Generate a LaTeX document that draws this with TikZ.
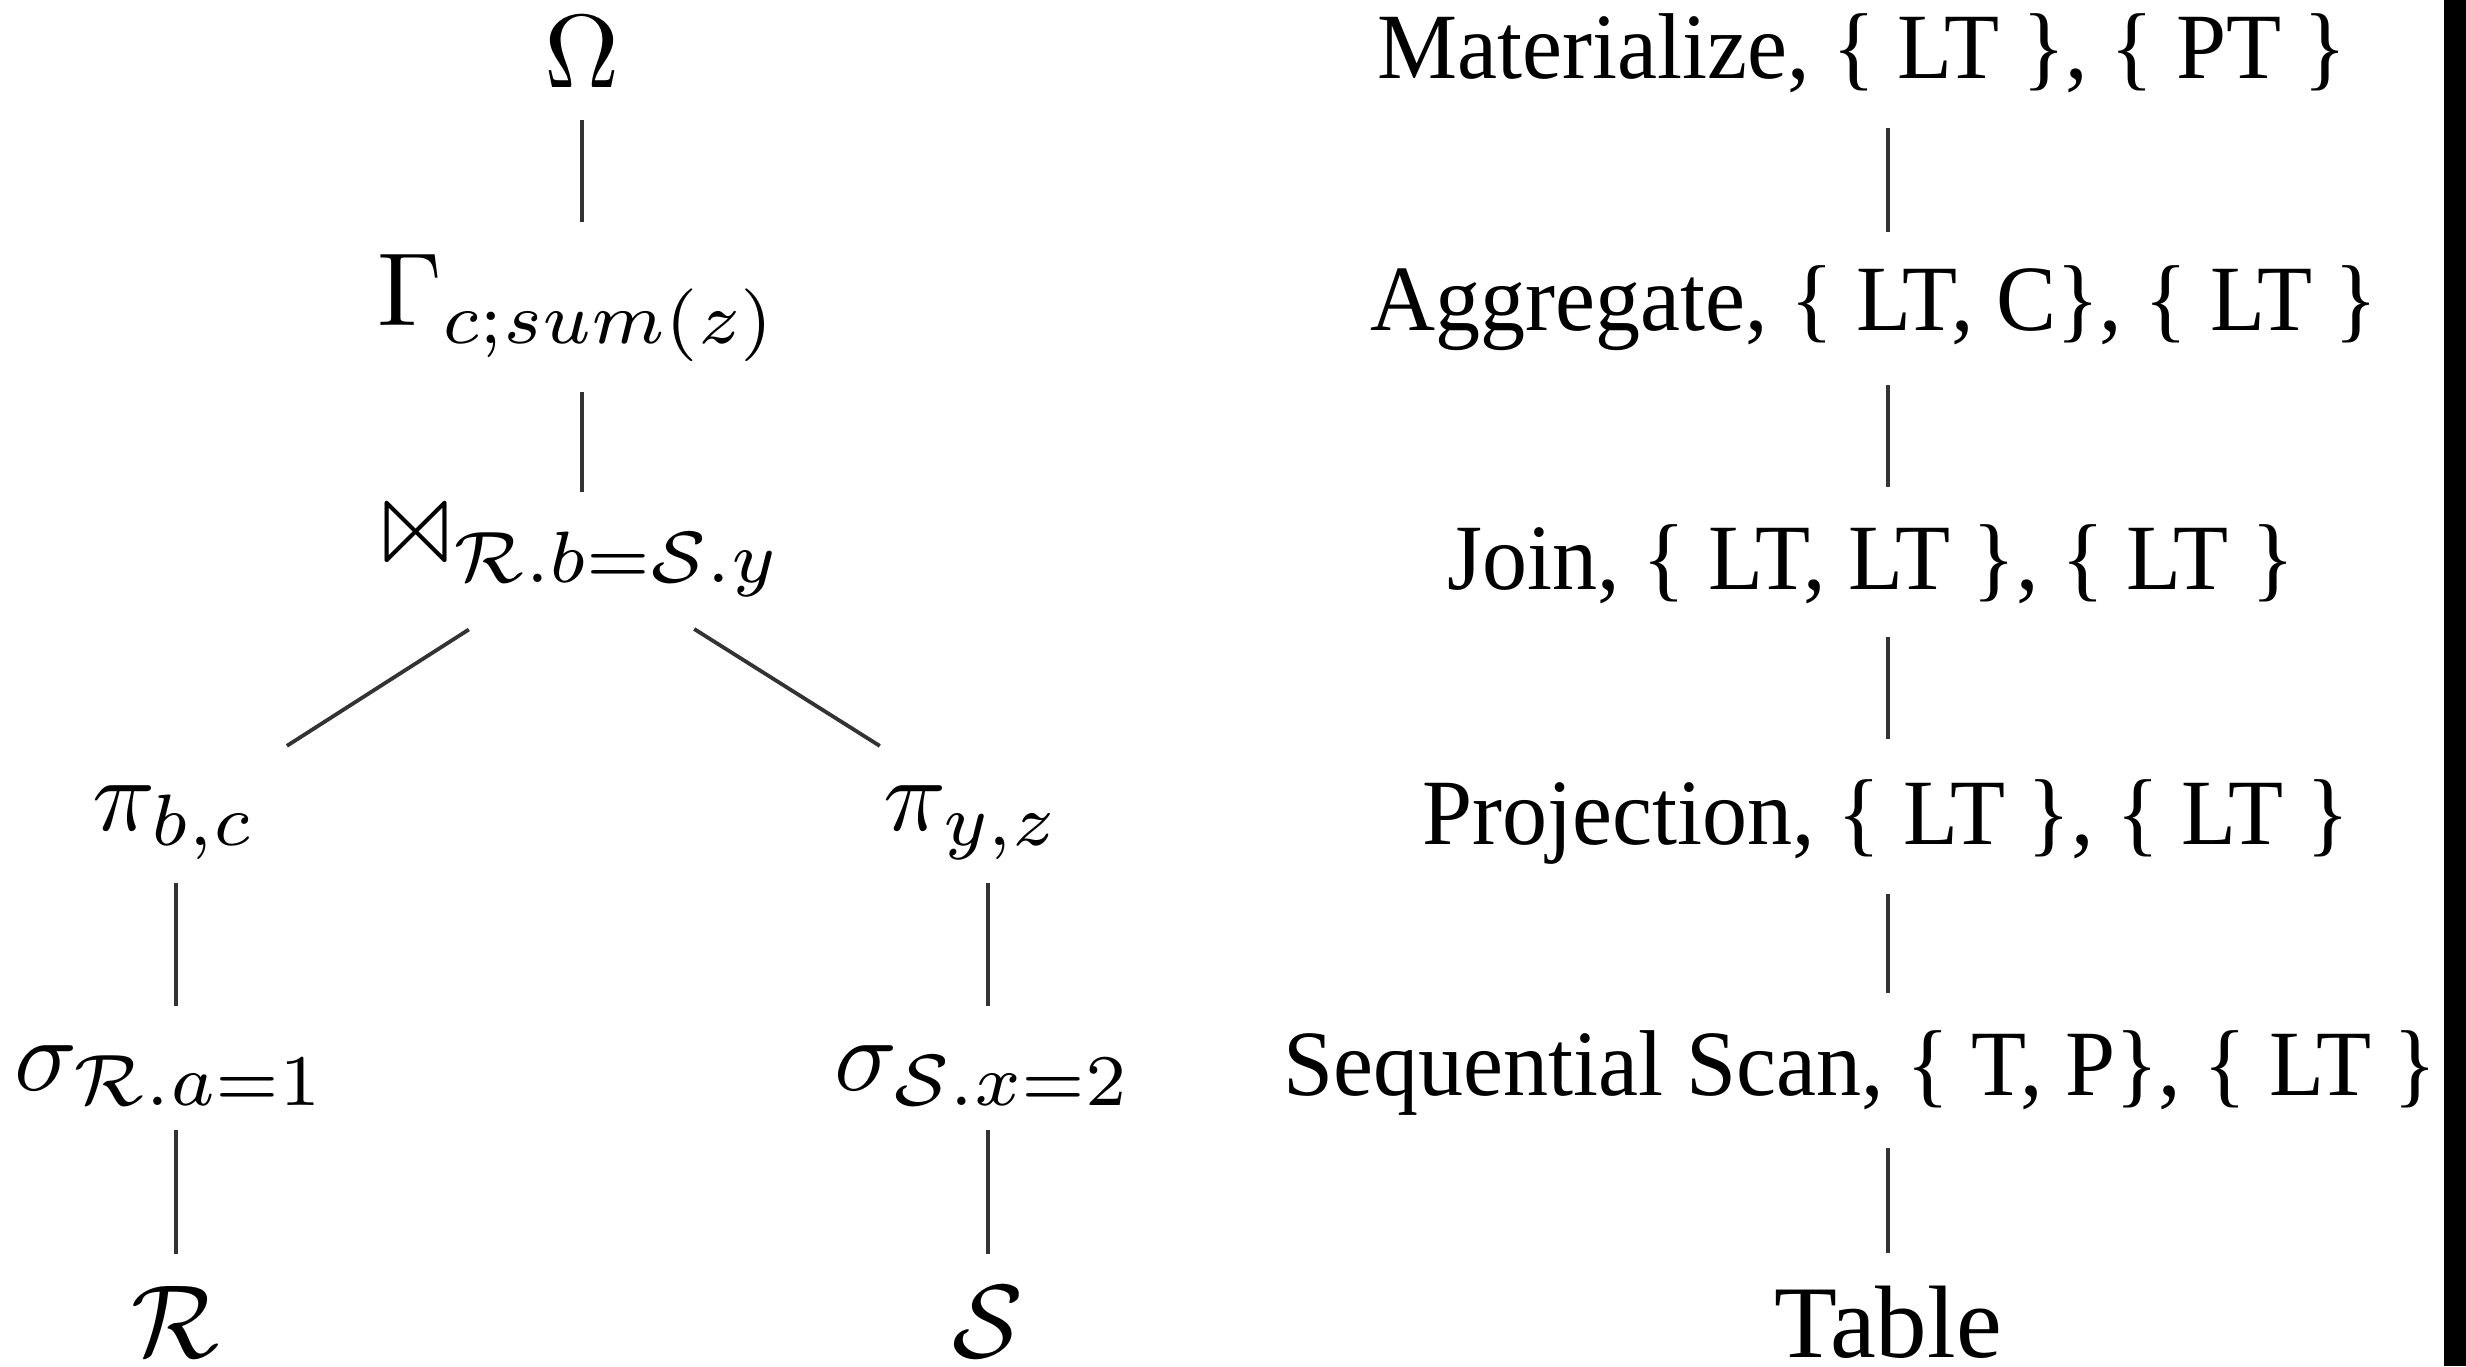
\documentclass[tikz,border=0pt]{standalone}
\usepackage{fix-cm}
\usepackage[no-math]{fontspec}
\usepackage{latexsym}
\newfontfamily\timesf[FakeStretch=0.963]{Liberation Serif}
\newfontfamily\timesplain{Liberation Serif}
\begin{document}
\begin{tikzpicture}[x=0.1pt,y=-0.1pt,
  mnode/.style={inner sep=0pt,outer sep=0pt,anchor=base,font=\fontsize{10.4pt}{12pt}\selectfont},
  tnode/.style={inner sep=0pt,outer sep=0pt,anchor=base,font=\timesf\fontsize{9.35pt}{11pt}\selectfont},
  tbig/.style={inner sep=0pt,outer sep=0pt,anchor=base,font=\timesplain\fontsize{10.3pt}{12pt}\selectfont},
  conn/.style={draw=black!80,line width=0.38pt}]
\useasboundingbox (0,0) rectangle (2466,1366);
\fill[black] (2444,0) rectangle (2466,1366);
% left tree
\node[mnode] (omega) at (582,87) {$\Omega$};
\node[mnode] (gamma) at (578,325) {$\Gamma_{c;sum(z)}$};
\node[mnode] (join) at (580,567) {$\Join_{\mathcal{R}.b=\mathcal{S}.y}$};
\node[mnode] (pil) at (174,830) {$\pi_{b,c}$};
\node[mnode] (sigl) at (170,1090) {$\sigma_{\mathcal{R}.a=1}$};
\node[mnode] (rel) at (176,1357) {$\mathcal{R}$};
\node[mnode] (pir) at (972,830) {$\pi_{y,z}$};
\node[mnode] (sigr) at (983,1090) {$\sigma_{\mathcal{S}.x=2}$};
\node[mnode] (relS) at (988,1357) {$\mathcal{S}$};
\draw[conn,shorten <=3.3pt,shorten >=10.3pt] (omega.base) -- (gamma.base -| omega.base);
\draw[conn,shorten <=6.7pt,shorten >=7.5pt] (gamma.base -| omega.base) -- (join.base -| omega.base);
\draw[conn,shorten <=13.2pt,shorten >=13.4pt] ([yshift=0.86pt]join.base) -- ([yshift=1.2pt]pil.base);
\draw[conn,shorten <=13.5pt,shorten >=10.9pt] ([yshift=1pt]join.base) -- ([yshift=2.6pt]pir.base);
\draw[conn,shorten <=5.3pt,shorten >=8.4pt] (pil.base -| rel.base) -- (sigl.base -| rel.base);
\draw[conn,shorten <=4pt,shorten >=10.3pt] (sigl.base -| rel.base) -- (rel.base);
\draw[conn,shorten <=5.3pt,shorten >=8.4pt] (pir.base -| relS.base) -- (sigr.base -| relS.base);
\draw[conn,shorten <=4pt,shorten >=10.3pt] (sigr.base -| relS.base) -- (relS.base);
% right column
\node[tnode] (mat) at (1862,78) {Materialize, \{ LT \}, \{ PT \}};
\node[tnode] (agg) at (1874,330) {Aggregate, \{ LT, C\}, \{ LT \}};
\node[tnode] (jn) at (1871,589) {Join, \{ LT, LT \}, \{ LT \}};
\node[tnode] (proj) at (1886,844) {Projection, \{ LT \}, \{ LT \}};
\node[tnode] (seq) at (1860,1095) {Sequential Scan, \{ T, P\}, \{ LT \}};
\node[tbig] (tab) at (1888,1357) {Table};
\draw[conn,shorten <=4.95pt,shorten >=9.8pt] (mat.base -| tab.base) -- (agg.base -| tab.base);
\draw[conn,shorten <=5.5pt,shorten >=10.2pt] (agg.base -| tab.base) -- (jn.base -| tab.base);
\draw[conn,shorten <=4.8pt,shorten >=10.5pt] (jn.base -| tab.base) -- (proj.base -| tab.base);
\draw[conn,shorten <=5pt,shorten >=10.2pt] (proj.base -| tab.base) -- (seq.base -| tab.base);
\draw[conn,shorten <=5.3pt,shorten >=10.4pt] (seq.base -| tab.base) -- (tab.base);
\end{tikzpicture}
\end{document}
